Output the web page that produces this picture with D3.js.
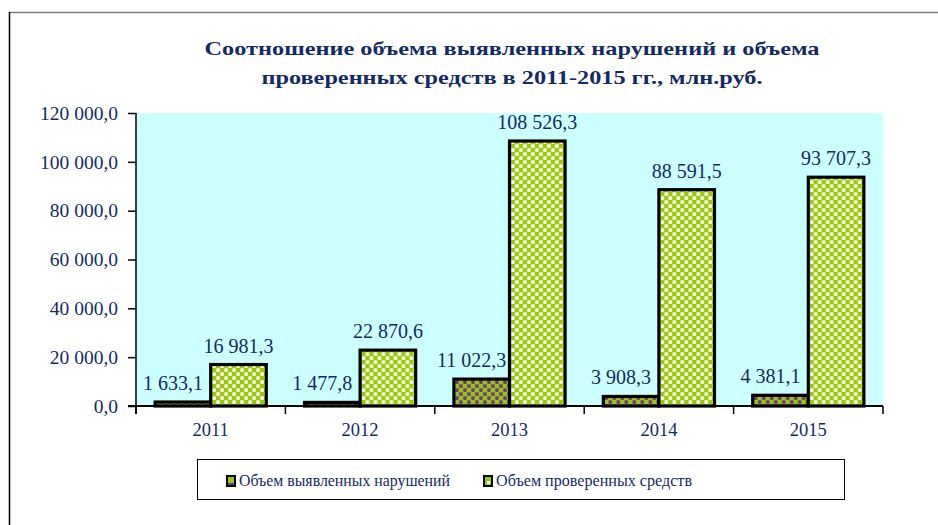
<!DOCTYPE html>
<html>
<head>
<meta charset="utf-8">
<script src="https://cdn.jsdelivr.net/npm/d3@7/dist/d3.min.js"></script>
<style>
  html, body { margin: 0; padding: 0; background: #fff; }
  svg { display: block; }
</style>
</head>
<body>
<svg id="chart" width="938" height="525"></svg>
<script>
const titleLines = ["Соотношение объема выявленных нарушений и объема", "проверенных средств в 2011-2015 гг., млн.руб."];
const categories = ["2011", "2012", "2013", "2014", "2015"];
const seriesNames = ["Объем выявленных нарушений", "Объем проверенных средств"];
const violations = [1633.1, 1477.8, 11022.3, 3908.3, 4381.1];
const checkedFunds = [16981.3, 22870.6, 108526.3, 88591.5, 93707.3];
const yTicks = [0, 20000, 40000, 60000, 80000, 100000, 120000];

const FONT = '"Liberation Serif"';
const navy = "#142a66";
const svg = d3.select("#chart");
const W = 938, H = 525;
const plot = { left: 136, right: 883, top: 113, bottom: 406 };

const loc = d3.formatLocale({ decimal: ",", thousands: "\u00a0", grouping: [3], currency: ["", ""] });
const fmt = loc.format(",.1f");

// patterns
const defs = svg.append("defs");
function checker(id, bg, fg) {
  const p = defs.append("pattern").attr("id", id).attr("patternUnits", "userSpaceOnUse")
    .attr("width", 8).attr("height", 8);
  p.append("rect").attr("width", 8).attr("height", 8).attr("fill", bg);
  p.append("rect").attr("x", 0.3).attr("y", 0.3).attr("width", 3.6).attr("height", 3.6).attr("fill", fg).attr("rx", 0.8);
  p.append("rect").attr("x", 4.3).attr("y", 4.3).attr("width", 3.6).attr("height", 3.6).attr("fill", fg).attr("rx", 0.8);
}
checker("patGreen", "#99cc00", "#ffffff");
checker("patPurple", "#99cc00", "#7030a0");
const fills = ["url(#patPurple)", "url(#patGreen)"];

// outer chart border
svg.append("line").attr("x1", 9).attr("x2", W).attr("y1", 12.5).attr("y2", 12.5).attr("stroke", "#808080").attr("stroke-width", 1.5);
svg.append("line").attr("x1", 9.5).attr("x2", 9.5).attr("y1", 12).attr("y2", H).attr("stroke", "#000").attr("stroke-width", 1.5);

// title
const titleWidths = [615, 501];
svg.selectAll("text.title").data(titleLines).enter().append("text")
  .attr("class", "title")
  .attr("x", 512).attr("y", (d, i) => 55 + i * 29)
  .attr("text-anchor", "middle")
  .attr("font-size", 19).attr("font-weight", "bold")
  .attr("textLength", (d, i) => titleWidths[i]).attr("lengthAdjust", "spacingAndGlyphs")
  .style("font-family", FONT)
  .attr("fill", navy)
  .text(d => d);

// scales
const x0 = d3.scaleBand().domain(categories).range([plot.left, plot.right]).padding(0);
const bw = x0.bandwidth();
const x1 = d3.scaleBand().domain(seriesNames).range([bw * 0.128, bw * 0.872]).padding(0);
const y = d3.scaleLinear().domain([0, 120000]).range([plot.bottom, plot.top]);

// plot background
svg.append("rect").attr("x", plot.left).attr("y", plot.top)
  .attr("width", plot.right - plot.left).attr("height", plot.bottom - plot.top)
  .attr("fill", "#ccffff");

// bars
const seriesData = [violations, checkedFunds];
const groups = svg.selectAll("g.cat").data(categories).enter().append("g")
  .attr("class", "cat").attr("transform", d => `translate(${x0(d)},0)`);

seriesNames.forEach((s, si) => {
  groups.append("rect")
    .attr("x", x1(s))
    .attr("y", (d, i) => y(seriesData[si][i]))
    .attr("width", x1.bandwidth())
    .attr("height", (d, i) => plot.bottom - y(seriesData[si][i]))
    .attr("fill", fills[si])
    .attr("stroke", "#000").attr("stroke-width", 3.2);
});

// y axis
const yAxis = d3.axisLeft(y).tickValues(yTicks).tickSize(8).tickFormat(fmt);
const ya = svg.append("g").attr("transform", `translate(${plot.left},0)`).call(yAxis);
ya.select(".domain").attr("d", `M0,${plot.top}V${plot.bottom + 8}`).attr("stroke", "#000").attr("stroke-width", 1.5);
ya.selectAll(".tick line").attr("stroke", "#000").attr("stroke-width", 1.5);
ya.selectAll(".tick text").attr("font-size", 19.5).attr("fill", navy).attr("x", -18)
  .style("font-family", FONT);

// x axis
const xAxis = d3.axisBottom(x0).tickSize(0).tickSizeOuter(0);
const xa = svg.append("g").attr("transform", `translate(0,${plot.bottom})`).call(xAxis);
xa.select(".domain").attr("d", `M${plot.left - 8},0H${plot.right}`).attr("stroke", "#000").attr("stroke-width", 2);
xa.selectAll(".tick text").attr("font-size", 18.5).attr("fill", navy).attr("y", 17)
  .style("font-family", FONT);
// category separator ticks
const sepX = categories.map(c => x0(c)).concat([plot.right]);
svg.selectAll("line.sep").data(sepX).enter().append("line")
  .attr("class", "sep")
  .attr("x1", d => d).attr("x2", d => d)
  .attr("y1", plot.bottom).attr("y2", plot.bottom + 8)
  .attr("stroke", "#000").attr("stroke-width", 1.5);

// data labels
const labelOffset = [-10, 0];
seriesNames.forEach((s, si) => {
  groups.append("text")
    .attr("x", x1(s) + x1.bandwidth() / 2 + labelOffset[si])
    .attr("y", (d, i) => y(seriesData[si][i]) - 12)
    .attr("text-anchor", "middle")
    .attr("font-size", 20)
    .style("font-family", FONT)
    .attr("fill", navy)
    .text((d, i) => fmt(seriesData[si][i]));
});

// legend
const lg = svg.append("g");
lg.append("rect").attr("x", 197.5).attr("y", 459.5).attr("width", 647).attr("height", 40)
  .attr("fill", "#fff").attr("stroke", "#000").attr("stroke-width", 1);
const legendX = [227, 484];
const legendW = [211, 196];
seriesNames.forEach((s, si) => {
  lg.append("rect").attr("x", legendX[si]).attr("y", 476).attr("width", 8).attr("height", 10)
    .attr("fill", "#99cc00")
    .attr("stroke", "#000").attr("stroke-width", 2);
  if (si === 0) {
    lg.append("rect").attr("x", legendX[si] + 1).attr("y", 483).attr("width", 6).attr("height", 2).attr("fill", "#7030a0");
  } else {
    lg.append("rect").attr("x", legendX[si] + 3).attr("y", 481).attr("width", 3).attr("height", 3).attr("fill", "#fff");
  }
  lg.append("text").attr("x", legendX[si] + 12).attr("y", 486)
    .attr("font-size", 17)
    .attr("textLength", legendW[si]).attr("lengthAdjust", "spacingAndGlyphs")
    .style("font-family", FONT)
    .attr("fill", navy).text(s);
});
</script>
</body>
</html>
